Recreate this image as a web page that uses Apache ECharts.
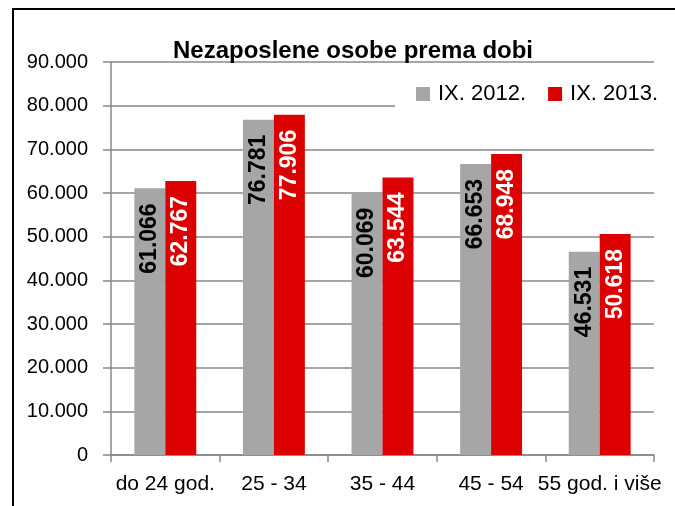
<!DOCTYPE html>
<html>
<head>
<meta charset="utf-8">
<script src="https://cdn.jsdelivr.net/npm/echarts@6/dist/echarts.min.js"></script>
<style>html,body{margin:0;padding:0;background:#fff}#c{width:675px;height:506px}</style>
</head>
<body>
<div id="c"></div>
<script>
var categories = ['do 24 god.', '25 - 34', '35 - 44', '45 - 54', '55 god. i više'];
var series2012 = [61066, 76781, 60069, 66653, 46531];
var series2013 = [62767, 77906, 63544, 68948, 50618];
var seriesNames = ['IX. 2012.', 'IX. 2013.'];
var titleText = 'Nezaposlene osobe prema dobi';

function fmt(v) {
  if (v === 0) return '0';
  var s = String(Math.round(v));
  return s.replace(/\B(?=(\d{3})+(?!\d))/g, '.');
}

var FONT = 'Liberation Sans';
var chart = echarts.init(document.getElementById('c'), null, {renderer: 'canvas'});
function labelCfg(color) {
  return {
    show: true, position: 'insideTop', rotate: 90, align: 'right', verticalAlign: 'middle',
    distance: 15, color: color, fontFamily: FONT, fontWeight: 'bold', fontSize: 23,
    formatter: function (p) { return fmt(p.value); }
  };
}
chart.setOption({
  animation: false,
  backgroundColor: '#fff',
  title: {
    text: titleText, left: 348, top: 34, textAlign: 'center',
    textStyle: {fontFamily: FONT, fontWeight: 'bold', fontSize: 24, color: '#000'}
  },
  legend: {
    left: 416, top: 83, padding: 0, z: 10,
    itemWidth: 14, itemHeight: 14, itemGap: 22,
    icon: 'rect',
    textStyle: {fontFamily: FONT, fontSize: 22, color: '#000', padding: [0, 0, 0, 3]},
    data: seriesNames
  },
  grid: {left: 111, right: 21, top: 62, bottom: 51, containLabel: false},
  xAxis: {
    type: 'category', data: categories,
    axisLine: {lineStyle: {color: '#888', width: 1.5}},
    axisTick: {show: true, length: 7, lineStyle: {color: '#888', width: 1.5}},
    axisLabel: {fontFamily: FONT, fontSize: 21, color: '#000', margin: 19, interval: 0}
  },
  yAxis: {
    type: 'value', min: 0, max: 90000, interval: 10000,
    axisLine: {show: true, lineStyle: {color: '#888', width: 1.5}},
    axisTick: {show: true, length: 8, lineStyle: {color: '#888', width: 1.5}},
    splitLine: {lineStyle: {color: '#888', width: 1.5}},
    axisLabel: {fontFamily: FONT, fontSize: 20, color: '#000', margin: 23, formatter: fmt}
  },
  series: [
    {name: seriesNames[0], type: 'bar', data: series2012, barGap: '0%', barCategoryGap: '43%',
     itemStyle: {color: '#A6A6A6'}, label: labelCfg('#000')},
    {name: seriesNames[1], type: 'bar', data: series2013, barGap: '0%', barCategoryGap: '43%',
     itemStyle: {color: '#DD0000'}, label: labelCfg('#fff')}
  ],
  graphic: [{
    type: 'rect', silent: true, z: 5,
    shape: {x: 395, y: 72, width: 300, height: 45},
    style: {fill: '#fff', stroke: 'none'}
  }, {
    type: 'rect', silent: true, z: 100,
    shape: {x: 13, y: 9, width: 700, height: 600},
    style: {fill: 'none', stroke: '#000', lineWidth: 2}
  }]
});
</script>
</body>
</html>
